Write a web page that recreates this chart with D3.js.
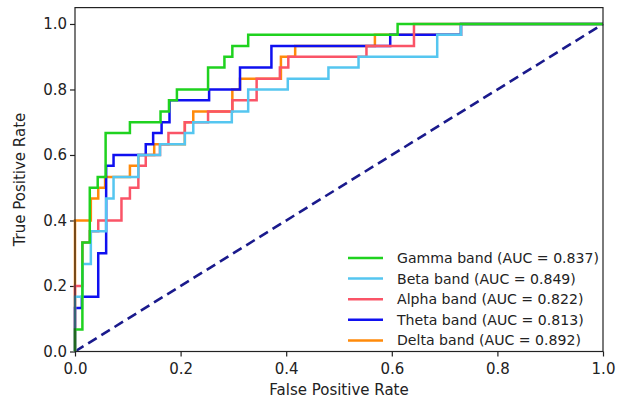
<!DOCTYPE html>
<html>
<head>
<meta charset="utf-8">
<script src="https://cdn.jsdelivr.net/npm/d3@7"></script>
<style>
  body { margin: 0; background: #fff; }
  svg { display: block; }
  text { font-family: "DejaVu Sans", sans-serif; }
</style>
</head>
<body>
<svg id="roc" width="626" height="402"></svg>
<script>
// legend labels + AUC values
const bandNames = ['Gamma band', 'Beta band', 'Alpha band', 'Theta band', 'Delta band'];
const bandAuc = [0.837, 0.849, 0.822, 0.813, 0.892];
const bandColors = ['#1fd21f', '#55c6f0', '#fa5467', '#0f10f0', '#ff8a0a'];

// ROC corner points (step: go up, then across)
const gammaFpr = [0, 0.014, 0.028, 0.043, 0.058, 0.104, 0.162, 0.178, 0.193, 0.252, 0.283, 0.298, 0.328, 0.611, 1];
const gammaTpr = [0, 0.067, 0.333, 0.5, 0.533, 0.667, 0.7, 0.733, 0.767, 0.8, 0.867, 0.9, 0.933, 0.967, 1];

const betaFpr = [0, 0.014, 0.030, 0.059, 0.073, 0.12, 0.161, 0.208, 0.224, 0.297, 0.328, 0.403, 0.48, 0.537, 0.686, 0.731, 1];
const betaTpr = [0, 0.167, 0.267, 0.367, 0.467, 0.533, 0.6, 0.633, 0.667, 0.7, 0.733, 0.8, 0.833, 0.867, 0.9, 0.967, 1];

const alphaFpr = [0, 0.014, 0.028, 0.044, 0.088, 0.104, 0.12, 0.134, 0.161, 0.177, 0.208, 0.252, 0.298, 0.344, 0.388, 0.404, 0.552, 0.642, 1];
const alphaTpr = [0, 0.2, 0.333, 0.367, 0.4, 0.467, 0.5, 0.567, 0.6, 0.633, 0.667, 0.7, 0.733, 0.767, 0.833, 0.867, 0.9, 0.933, 1];

const thetaFpr = [0, 0.013, 0.044, 0.059, 0.073, 0.134, 0.148, 0.164, 0.179, 0.254, 0.3125, 0.372, 0.597, 0.731, 1];
const thetaTpr = [0, 0.133, 0.167, 0.3, 0.567, 0.6, 0.633, 0.667, 0.7, 0.767, 0.8, 0.867, 0.933, 0.967, 1];

const deltaFpr = [0, 0.030, 0.044, 0.057, 0.104, 0.12, 0.150, 0.208, 0.224, 0.298, 0.3125, 0.39, 0.417, 0.568, 0.731, 1];
const deltaTpr = [0, 0.4, 0.467, 0.5, 0.533, 0.567, 0.6, 0.633, 0.7, 0.733, 0.8, 0.833, 0.9, 0.933, 0.967, 1];

const axisTicks = [0, 0.2, 0.4, 0.6, 0.8, 1.0];

const curves = [
    [gammaFpr, gammaTpr],
    [betaFpr, betaTpr],
    [alphaFpr, alphaTpr],
    [thetaFpr, thetaTpr],
    [deltaFpr, deltaTpr]
];

function drawRoc() {
    const svg = d3.select('#roc');
    const left = 75, right = 603, top = 7.6, bottom = 351.5;

    const x = d3.scaleLinear().domain([0, 1]).range([left, right]);
    const y = d3.scaleLinear().domain([0, 1.05]).range([bottom, top]);

    // axes
    const xAxis = svg.append('g')
        .attr('transform', `translate(0,${bottom})`)
        .call(d3.axisBottom(x).tickValues(axisTicks).tickFormat(d3.format('.1f')).tickSize(5).tickSizeOuter(0));
    const yAxis = svg.append('g')
        .attr('transform', `translate(${left},0)`)
        .call(d3.axisLeft(y).tickValues(axisTicks).tickFormat(d3.format('.1f')).tickSize(5).tickSizeOuter(0));

    [xAxis, yAxis].forEach(g => {
        g.select('.domain').remove();
        g.selectAll('.tick line').attr('stroke', '#222').attr('stroke-width', 1.2);
        g.selectAll('.tick text').attr('font-size', 15).attr('fill', '#222');
    });
    xAxis.selectAll('.tick text').attr('dy', '0.95em');
    yAxis.selectAll('.tick text').attr('x', -8);

    // chance diagonal
    svg.append('line')
        .attr('x1', x(0)).attr('y1', y(0))
        .attr('x2', x(1)).attr('y2', y(1))
        .attr('stroke', '#1a1a8c')
        .attr('stroke-width', 2.6)
        .attr('stroke-dasharray', '10,5.5');

    // curves drawn in reverse so Gamma sits on top
    const line = d3.line()
        .x(d => x(d[0]))
        .y(d => y(d[1]))
        .curve(d3.curveStepBefore);

    for (let i = curves.length - 1; i >= 0; i--) {
        const [fpr, tpr] = curves[i];
        const pts = fpr.map((f, k) => [f, tpr[k]]);
        svg.append('path')
            .datum(pts)
            .attr('d', line)
            .attr('fill', 'none')
            .attr('stroke', bandColors[i])
            .attr('stroke-width', 2.5);
    }

    // frame
    svg.append('rect')
        .attr('x', left).attr('y', top)
        .attr('width', right - left).attr('height', bottom - top)
        .attr('fill', 'none')
        .attr('stroke', '#222')
        .attr('stroke-width', 1.2);

    // legend
    const legend = svg.append('g');
    bandNames.forEach((name, i) => {
        const ly = 258 + 20.6 * i;
        legend.append('line')
            .attr('x1', 348).attr('x2', 383)
            .attr('y1', ly).attr('y2', ly)
            .attr('stroke', bandColors[i])
            .attr('stroke-width', 2.5);
        legend.append('text')
            .attr('x', 397).attr('y', ly)
            .attr('dy', '0.35em')
            .attr('font-size', 14.1)
            .attr('fill', '#222')
            .text(`${name} (AUC = ${bandAuc[i].toFixed(3)})`);
    });

    // axis labels
    svg.append('text')
        .attr('x', (left + right) / 2).attr('y', 395)
        .attr('text-anchor', 'middle')
        .attr('font-size', 15)
        .attr('fill', '#222')
        .text('False Positive Rate');
    svg.append('text')
        .attr('transform', `translate(25,${(top + bottom) / 2}) rotate(-90)`)
        .attr('text-anchor', 'middle')
        .attr('font-size', 15)
        .attr('fill', '#222')
        .text('True Positive Rate');
}

window.addEventListener('DOMContentLoaded', () => {
    drawRoc();
});
</script>
</body>
</html>
